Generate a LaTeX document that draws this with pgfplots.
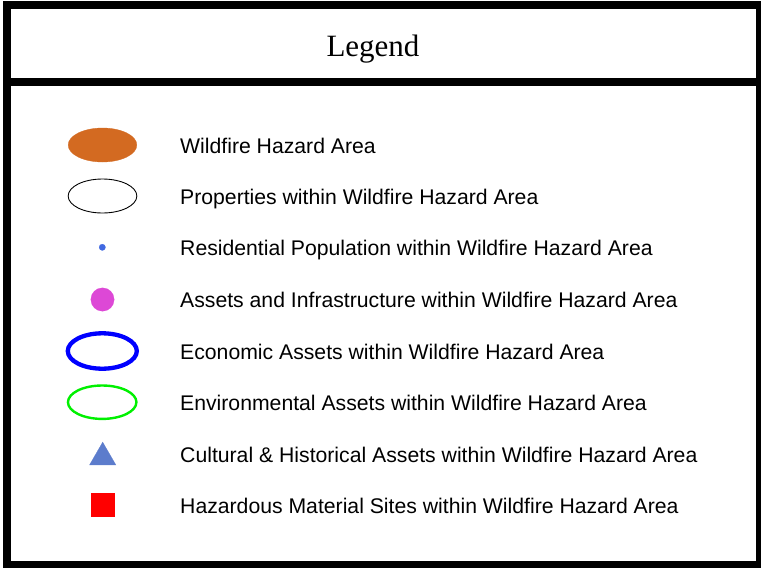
\documentclass[border=0pt]{standalone}
\usepackage{pgfplots}
\pgfplotsset{compat=1.18}
\usepackage{fontspec}
\setmainfont{Liberation Sans}
\newfontfamily\timesfont{Liberation Serif}
\definecolor{wildfire}{RGB}{211,106,33}
\definecolor{resid}{RGB}{65,105,225}
\definecolor{assets}{RGB}{221,72,214}
\definecolor{econ}{RGB}{0,0,255}
\definecolor{envir}{RGB}{0,240,0}
\definecolor{cultural}{RGB}{92,124,204}
\definecolor{hazmat}{RGB}{255,0,0}
\begin{document}
\begin{tikzpicture}
\useasboundingbox (0pt,0pt) rectangle (761pt,568pt);
\begin{axis}[
  at={(0pt,0pt)}, anchor=south west,
  width=761pt, height=568pt, scale only axis,
  xmin=0, xmax=761, ymin=0, ymax=568, y dir=reverse,
  hide axis, clip=false,
]
% frames
\draw[line width=8pt, black] (axis cs:6.5,5) rectangle (axis cs:760,82);
\draw[line width=8pt, black] (axis cs:6.5,82) rectangle (axis cs:760,565);
\node[anchor=base, font=\timesfont\fontsize{31}{36}\selectfont] at (axis cs:373,56) {Legend};
% symbols
\addplot[only marks, mark=*, mark size=17pt, mark options={xscale=2.02, fill=wildfire, draw=wildfire, line width=0.3pt}] coordinates {(102.5,145)};
\addplot[only marks, mark=o, mark size=17pt, mark options={xscale=2.02, draw=black, fill=white, line width=0.9pt}] coordinates {(102.5,196)};
\addplot[only marks, mark=*, mark size=3.2pt, mark options={fill=resid, draw=resid, line width=0.2pt}] coordinates {(102.3,247.3)};
\addplot[only marks, mark=*, mark size=11.7pt, mark options={fill=assets, draw=assets, line width=0.2pt}] coordinates {(102.5,299.5)};
\addplot[only marks, mark=o, mark size=17.7pt, mark options={xscale=1.95, draw=econ, line width=4.3pt}] coordinates {(102.3,351)};
\addplot[only marks, mark=o, mark size=16.7pt, mark options={xscale=2.05, draw=envir, line width=2.4pt}] coordinates {(102.2,402.2)};
\addplot[only marks, mark=triangle*, mark size=15.2pt, mark options={fill=cultural, draw=cultural, line width=0.2pt}] coordinates {(102.7,457.3)};
\addplot[only marks, mark=square*, mark size=11.3pt, mark options={fill=hazmat, draw=hazmat, line width=0.2pt}] coordinates {(102.5,504.5)};
% labels
\begin{scope}[every node/.style={anchor=base west, inner sep=0pt, font=\fontsize{21.2}{25}\selectfont}]
\node at (axis cs:180,153.3) {Wildfire Hazard Area};
\node at (axis cs:180,204.3) {Properties within Wildfire Hazard Area};
\node at (axis cs:180,255.5) {Residential Population within Wildfire Hazard Area};
\node at (axis cs:180,307.5) {Assets and Infrastructure within Wildfire Hazard Area};
\node at (axis cs:180,359) {Economic Assets within Wildfire Hazard Area};
\node at (axis cs:180,410.5) {Environmental Assets within Wildfire Hazard Area};
\node at (axis cs:180,462) {Cultural \& Historical Assets within Wildfire Hazard Area};
\node at (axis cs:180,513.5) {Hazardous Material Sites within Wildfire Hazard Area};
\end{scope}
\end{axis}
\end{tikzpicture}
\end{document}
